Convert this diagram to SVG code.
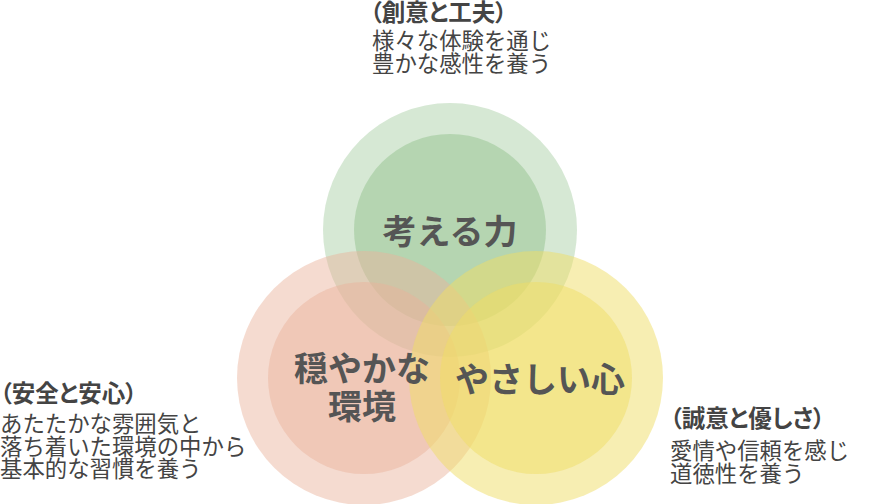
<svg xmlns="http://www.w3.org/2000/svg" width="882" height="504" viewBox="0 0 882 504">
<style>
.g{fill:rgb(50,140,40);fill-opacity:0.2}
.p{fill:rgb(234,178,155);fill-opacity:0.47}
.y{fill:rgb(239,221,101);fill-opacity:0.5}
.big{font-family:"Noto Sans CJK JP","Noto Sans CJK SC",sans-serif;font-weight:bold;font-size:34px;fill:#555;text-anchor:middle}
.hd{font-family:"Noto Sans CJK JP","Noto Sans CJK SC",sans-serif;font-weight:bold;font-size:23.5px;fill:#444;font-feature-settings:"palt"}
.tx{font-family:"Noto Sans CJK JP","Noto Sans CJK SC",sans-serif;font-weight:400;font-size:22.4px;fill:#444}
</style>
<rect width="882" height="504" fill="#fff"/>
<g id="think">
<circle class="g" cx="450" cy="230" r="127"/>
<circle class="g" cx="450" cy="230" r="96"/>
</g>
<g id="env">
<circle class="p" cx="364" cy="378" r="127"/>
<circle class="p" cx="364" cy="378" r="96"/>
</g>
<g id="kind">
<circle class="y" cx="536" cy="378" r="127"/>
<circle class="y" cx="536" cy="378" r="96"/>
</g>
<g id="labels">
<text class="big" x="450" y="244">考える力</text>
<text class="big" x="362" y="381">穏やかな</text>
<text class="big" x="362" y="419">環境</text>
<text class="big" x="540" y="392">やさしい心</text>
</g>
<g id="top-note">
<text class="hd" x="370" y="21">（創意と工夫）</text>
<text class="tx" x="372" y="49">様々な体験を通じ</text>
<text class="tx" x="372" y="72">豊かな感性を養う</text>
</g>
<g id="left-note">
<text class="hd" x="0" y="402">（安全と安心）</text>
<text class="tx" x="0" y="432">あたたかな雰囲気と</text>
<text class="tx" x="0" y="454.5">落ち着いた環境の中から</text>
<text class="tx" x="0" y="477">基本的な習慣を養う</text>
</g>
<g id="right-note">
<text class="hd" x="670" y="427">（誠意と優しさ）</text>
<text class="tx" x="670" y="459">愛情や信頼を感じ</text>
<text class="tx" x="670" y="482">道徳性を養う</text>
</g>
</svg>
